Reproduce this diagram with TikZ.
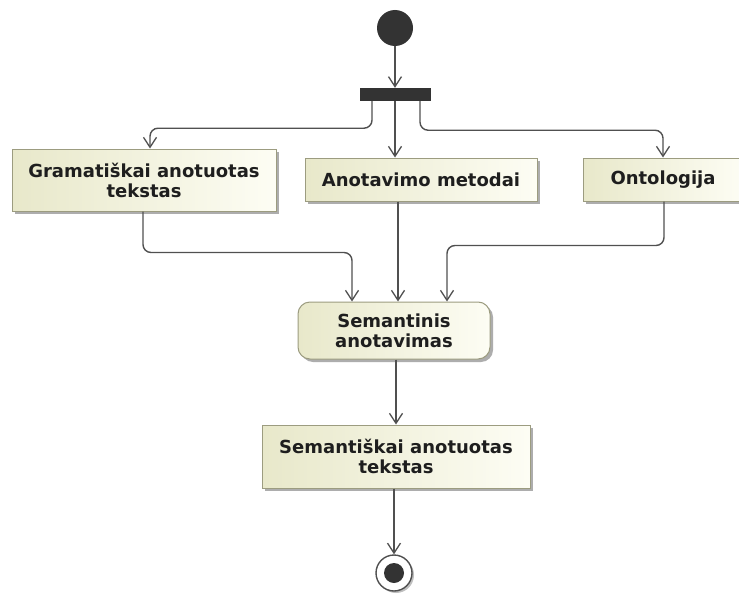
\documentclass[tikz,border=0pt]{standalone}
\usepackage{fontspec}
\setmainfont{DejaVu Sans}
\usetikzlibrary{arrows.meta,shadows}
\definecolor{edge}{HTML}{505050}
\definecolor{boxline}{HTML}{9C9C80}
\definecolor{fillL}{HTML}{E8E8CA}
\definecolor{fillR}{HTML}{FDFDF4}
\definecolor{ink}{HTML}{1E1E1E}
\definecolor{solid}{HTML}{333333}
\tikzset{
  action/.style={draw=boxline, line width=1pt, shading=axis, left color=fillL, right color=fillR,
    shading angle=90, text=ink, align=center, inner sep=0pt,
    font=\fontsize{18}{20}\selectfont\bfseries,
    general shadow={shadow xshift=3pt, shadow yshift=-3pt, fill=black!32}},
  activity/.style={action, rounded corners=12pt},
  flow/.style={draw=edge, line width=1.4pt, rounded corners=8pt,
    -{Straight Barb[length=10pt, width=13pt, line width=1.3pt]}},
}
\begin{document}
\begin{tikzpicture}[x=1pt, y=-1pt]
\clip (0,0) rectangle (739,594);
\fill[white] (0,0) rectangle (739,594);

% initial node and fork bar
\node[circle, fill=solid, minimum size=36pt, inner sep=0pt] (start) at (395,28) {};
\node[fill=solid, minimum width=71pt, minimum height=13pt, inner sep=0pt] (bar) at (395,94.5) {};

% actions
\node[action, minimum width=264pt, minimum height=62pt] (gram) at (144,180) {Gramatiškai anotuotas\\tekstas};
\node[action, minimum width=232pt, minimum height=43pt] (meth) at (421,179.5) {Anotavimo metodai};
\node[action, minimum width=160pt, minimum height=43pt] (onto) at (663,179.5) {Ontologija};
\node[activity, minimum width=192pt, minimum height=57pt] (sem) at (394,330.5) {Semantinis\\anotavimas};
\node[action, minimum width=268pt, minimum height=63pt] (res) at (396,456.5) {Semantiškai anotuotas\\tekstas};

% final node
\node[circle, draw=edge, line width=1.4pt, fill=white, minimum size=36pt, inner sep=0pt,
  general shadow={shadow xshift=2pt, shadow yshift=-2pt, fill=black!25}] (end) at (394,573) {};
\node[circle, fill=solid, minimum size=20pt, inner sep=0pt] (endin) at (end.center) {};

% control flow
\draw[flow] (start.south) -- (bar.north);
\draw[flow] ([xshift=-23pt]bar.south) -- ++(0,27) -| ([xshift=6pt]gram.north);
\draw[flow] (bar.south) -- ([xshift=-26pt]meth.north);
\draw[flow] ([xshift=25pt]bar.south) -- ++(0,29) -| (onto.north);
\draw[flow] ([xshift=-1pt]gram.south) -- ++(0,41) -| ([xshift=-42pt]sem.north);
\draw[flow] ([xshift=-23pt]meth.south) -- ([xshift=4pt]sem.north);
\draw[flow] ([xshift=1pt]onto.south) -- ++(0,44) -| ([xshift=53pt]sem.north);
\draw[flow] ([xshift=2pt]sem.south) -- (res.north);
\draw[flow] ([xshift=-2pt]res.south) -- (end.north);
\end{tikzpicture}
\end{document}
